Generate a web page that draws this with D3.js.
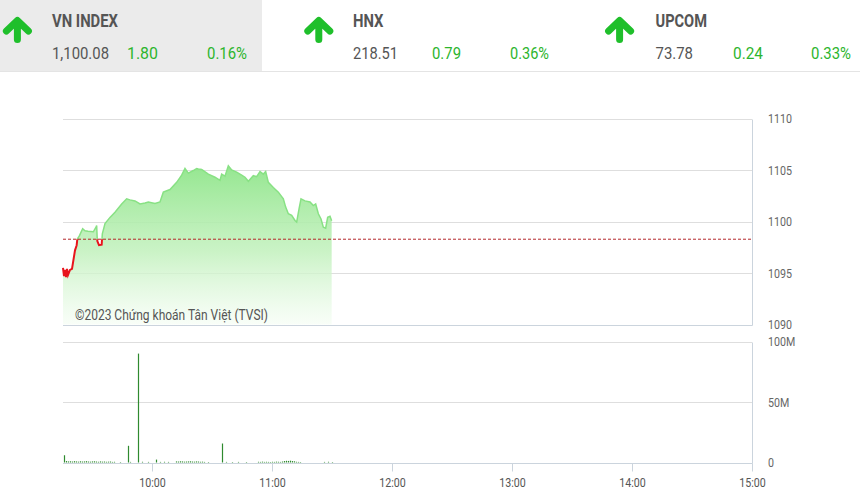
<!DOCTYPE html>
<html><head><meta charset="utf-8">
<script src="https://cdn.jsdelivr.net/npm/d3@7"></script>
<style>body{margin:0;background:#fff;} svg{display:block;font-family:Roboto,"Noto Sans",sans-serif;}</style>
</head><body><svg id="c" width="860" height="500"></svg>
<script>
// ---------- data ----------
const indexNames    = ["VN INDEX", "HNX", "UPCOM"];
const indexValues   = ["1,100.08", "218.51", "73.78"];
const indexChanges  = ["1.80", "0.79", "0.24"];
const indexPercents = ["0.16%", "0.36%", "0.33%"];

const referencePrice = 1098.28;

const priceTimes = ["09:15:30","09:16:00","09:16:30","09:17:00","09:17:30","09:18:00","09:19:00","09:20:00",
  "09:21:30","09:22:20","09:22:40","09:23:40","09:25:20","09:26:30","09:28:00","09:30:40","09:32:00","09:32:20",
  "09:32:40","09:33:30","09:34:50","09:35:10","09:36:30","09:39:00","09:41:30","09:44:50","09:47:20","09:49:00",
  "09:51:30","09:54:00","09:56:30","09:58:10","10:01:30","10:04:00","10:05:40","10:09:00","10:12:20","10:14:50",
  "10:16:30","10:18:10","10:20:40","10:22:20","10:23:10","10:24:50","10:28:10","10:31:30","10:34:00","10:34:50",
  "10:36:30","10:38:10","10:39:50","10:42:20","10:44:50","10:46:30","10:48:10","10:50:40","10:52:20","10:54:00",
  "10:55:40","10:56:50","10:58:10","11:00:40","11:03:10","11:05:40","11:06:50","11:08:10","11:09:50","11:11:30",
  "11:12:20","11:13:30","11:14:30","11:16:30","11:19:00","11:20:40","11:21:50","11:23:10","11:24:30","11:25:40",
  "11:26:50","11:27:50","11:29:00","11:29:50"];
const priceValues = [1095.5,1094.7,1095.3,1094.6,1095.4,1094.8,1095.3,1095.4,
  1097.2,1097.7,1098.3,1098.6,1099.3,1099.1,1099.05,1099.0,1099.45,1099.6,
  1098.1,1097.7,1097.75,1098.8,1099.8,1100.4,1100.9,1101.7,1102.2,1102.1,
  1102.0,1101.7,1101.8,1101.9,1101.75,1101.9,1102.85,1103.1,1103.8,1104.5,
  1105.15,1104.7,1104.95,1105.15,1105.1,1105.05,1104.6,1104.3,1104.0,1104.6,
  1104.4,1105.4,1105.0,1104.8,1104.5,1104.3,1103.9,1104.45,1104.35,1104.85,
  1104.6,1104.85,1103.8,1103.3,1102.85,1102.2,1101.4,1100.75,1100.6,1100.1,
  1099.95,1101.2,1102.2,1102.0,1101.9,1101.55,1101.7,1100.75,1100.25,1099.45,
  1099.35,1100.4,1100.5,1100.08];

const volumeTimes = ["09:16","09:17","09:18","09:19","09:20","09:21","09:22","09:23","09:24","09:25","09:26",
  "09:27","09:28","09:29","09:30","09:31","09:32","09:33","09:34","09:35","09:36","09:37","09:38","09:39","09:40",
  "09:41","09:44","09:48","09:49","09:53","09:55","09:58","10:02","10:04","10:06","10:08","10:12","10:13","10:14",
  "10:15","10:16","10:17","10:18","10:19","10:20","10:21","10:22","10:23","10:24","10:25","10:26","10:28","10:35",
  "10:37","10:40","10:43","10:47","10:53","10:54","10:55","10:56","10:57","10:58","10:59","11:00","11:01","11:02",
  "11:03","11:04","11:05","11:06","11:07","11:08","11:09","11:10","11:11","11:12","11:13","11:14","11:26","11:28","11:30"];
const volumeValues = [6.0,1.2,0.9,1.0,0.8,1.1,0.9,0.7,1.0,0.8,0.9,
  1.1,0.8,0.7,0.9,1.0,0.8,0.6,0.9,0.7,0.8,0.6,0.7,0.8,0.5,
  0.6,0.4,13.8,0.5,90.0,0.6,0.5,2.4,0.5,0.6,0.5,0.9,0.8,1.0,
  0.9,0.7,0.8,0.9,1.0,0.8,0.7,0.9,0.8,0.6,0.7,0.5,0.4,15.7,
  0.5,0.4,0.5,0.4,0.6,0.5,0.7,0.5,0.6,0.5,0.4,0.6,0.5,0.7,
  0.6,0.5,0.8,1.2,1.4,1.3,1.5,1.2,1.0,0.6,0.5,0.4,0.5,0.6,0.4]; // millions

const priceTicks  = [1090, 1095, 1100, 1105, 1110];
const volumeTicks = [0, 50, 100];
const volumeTickLabels = ["0", "50M", "100M"];
const timeTicks   = ["10:00", "11:00", "12:00", "13:00", "14:00", "15:00"];
const timeStart = "09:15", timeEnd = "15:00";
const watermark = "©2023 Chứng khoán Tân Việt (TVSI)";

// ---------- helpers ----------
const parseT = s => d3.timeParse("%H:%M:%S")(s.length === 5 ? s + ":00" : s);
const svg = d3.select("#c");
const condense = (sel, k) => sel.each(function(){ this.setAttribute("textLength", this.getComputedTextLength() * k); this.setAttribute("lengthAdjust","spacingAndGlyphs"); });

// ---------- header ----------
const GREEN = "#1fbf2b", TXTG = "#2db52d", GREY = "#555";
svg.append("rect").attr("x",0).attr("y",0).attr("width",262).attr("height",71).attr("fill","#ebebeb");
svg.append("line").attr("x1",0).attr("x2",860).attr("y1",71.5).attr("y2",71.5).attr("stroke","#e4e4e4");
const titleW = [66, 30.5, 51.5], valW = [57, 45, 37.5], chgW = [31, 29, 30], pctW = [40, 39, 40];
const chgX = [127, 432, 733], pctEnd = [247, 549, 851], titleX = [52, 353, 655.5], arrowX = [17.4, 318.8, 619.6];
indexNames.forEach((n, i) => {
  const g = svg.append("g");
  g.append("path").attr("d", `M${arrowX[i]-11},31 L${arrowX[i]},20.5 L${arrowX[i]+11},31 M${arrowX[i]},22 V39.5`)
    .attr("fill","none").attr("stroke",GREEN).attr("stroke-width",7).attr("stroke-linecap","round").attr("stroke-linejoin","round");
  g.append("text").attr("x",titleX[i]).attr("y",27).attr("font-size",18).attr("font-weight",700).attr("fill",GREY)
    .attr("textLength",titleW[i]).attr("lengthAdjust","spacingAndGlyphs").text(n);
  g.append("text").attr("x",titleX[i]).attr("y",59).attr("font-size",16).attr("fill",GREY)
    .attr("textLength",valW[i]).attr("lengthAdjust","spacingAndGlyphs").text(indexValues[i]);
  g.append("text").attr("x",chgX[i]).attr("y",59).attr("font-size",16).attr("fill",TXTG)
    .attr("textLength",chgW[i]).attr("lengthAdjust","spacingAndGlyphs").text(indexChanges[i]);
  g.append("text").attr("x",pctEnd[i]-pctW[i]).attr("y",59).attr("font-size",16).attr("fill",TXTG)
    .attr("textLength",pctW[i]).attr("lengthAdjust","spacingAndGlyphs").text(indexPercents[i]);
});

// ---------- scales ----------
const L = 62, R = 752;
const x = d3.scaleTime().domain([parseT(timeStart), parseT(timeEnd)]).range([L, R]);
const yP = d3.scaleLinear().domain([1090, 1110]).range([324.5, 118.5]);
const yV = d3.scaleLinear().domain([0, 100]).range([462.5, 341.5]);
const GRID = "#dedede", BORDER = "#cbd4dd";

// ---------- price panel ----------
const pg = svg.append("g");
pg.append("g").selectAll("line").data(priceTicks.slice(1)).join("line")
  .attr("x1",L+1).attr("x2",R).attr("y1",d=>Math.round(yP(d))+0.5).attr("y2",d=>Math.round(yP(d))+0.5).attr("stroke",GRID);
pg.append("path").attr("d",`M${L+1},${Math.round(yP(1090))+0.5} H${R+0.5} V${Math.round(yP(1110))+0.5}`)
  .attr("fill","none").attr("stroke",BORDER);

const defs = svg.append("defs");
const grad = defs.append("linearGradient").attr("id","ag").attr("gradientUnits","userSpaceOnUse")
  .attr("x1",0).attr("x2",0).attr("y1",yP(1105.5)).attr("y2",yP(1090));
grad.append("stop").attr("offset",0).attr("stop-color","#8fe58a").attr("stop-opacity",0.95);
grad.append("stop").attr("offset",0.55).attr("stop-color","#c2f1bd").attr("stop-opacity",0.85);
grad.append("stop").attr("offset",1).attr("stop-color","#f4fdf3").attr("stop-opacity",0.6);
const yRef = yP(referencePrice);
defs.append("clipPath").attr("id","above").append("rect").attr("x",0).attr("y",0).attr("width",860).attr("height",yRef);
defs.append("clipPath").attr("id","below").append("rect").attr("x",0).attr("y",yRef).attr("width",860).attr("height",500);

const pts = priceTimes.map((t,i)=>({t:parseT(t), v:priceValues[i]}));
const area = d3.area().x(d=>x(d.t)).y0(yP(1090)).y1(d=>yP(d.v));
const line = d3.line().x(d=>x(d.t)).y(d=>yP(d.v));
pg.append("path").datum(pts).attr("d",area).attr("fill","url(#ag)");
pg.append("path").datum(pts).attr("d",line).attr("fill","none").attr("stroke","#88e184").attr("stroke-width",1.5).attr("clip-path","url(#above)");
pg.append("path").datum(pts).attr("d",line).attr("fill","none").attr("stroke","#e8141c").attr("stroke-width",2).attr("clip-path","url(#below)");
pg.append("line").attr("x1",L+1).attr("x2",R).attr("y1",yRef).attr("y2",yRef)
  .attr("stroke","#b3262a").attr("stroke-width",1).attr("stroke-dasharray","3,2");

const ayP = pg.append("g").attr("transform",`translate(${R},0)`)
  .call(d3.axisRight(yP).tickValues(priceTicks).tickSize(0).tickPadding(16).tickFormat(d3.format("d")));
ayP.select(".domain").remove();
ayP.selectAll("text").attr("font-size",13).attr("font-family","Roboto").attr("fill","#666");
condense(ayP.selectAll("text"), 0.82);

pg.append("text").attr("x",75).attr("y",320).attr("font-size",14).attr("fill","#555")
  .attr("textLength",193).attr("lengthAdjust","spacingAndGlyphs").text(watermark);

// ---------- volume panel ----------
const vg = svg.append("g");
vg.append("g").selectAll("line").data(volumeTicks.slice(1)).join("line")
  .attr("x1",L+1).attr("x2",R).attr("y1",d=>Math.round(yV(d))+0.5).attr("y2",d=>Math.round(yV(d))+0.5).attr("stroke",GRID);
vg.append("path").attr("d",`M${L+1},${Math.round(yV(0))+0.5} H${R+0.5} V${Math.round(yV(100))+0.5}`)
  .attr("fill","none").attr("stroke",BORDER);
vg.append("g").selectAll("line").data(volumeTimes).join("line")
  .attr("x1",(d)=>Math.round(x(parseT(d)))+0.5).attr("x2",(d)=>Math.round(x(parseT(d)))+0.5)
  .attr("y1",yV(0)).attr("y2",(d,i)=>yV(volumeValues[i]))
  .attr("stroke","#2f8a2f").attr("stroke-width",1.2);

const ayV = vg.append("g").attr("transform",`translate(${R},0)`)
  .call(d3.axisRight(yV).tickValues(volumeTicks).tickSize(0).tickPadding(16).tickFormat((d,i)=>volumeTickLabels[i]));
ayV.select(".domain").remove();
ayV.selectAll("text").attr("font-size",13).attr("font-family","Roboto").attr("fill","#666");
condense(ayV.selectAll("text"), 0.82);

const ax = vg.append("g").attr("transform",`translate(0,${Math.round(yV(0))+0.5})`)
  .call(d3.axisBottom(x).tickValues(timeTicks.map(parseT)).tickSize(8).tickPadding(6).tickFormat(d3.timeFormat("%H:%M")));
ax.select(".domain").remove();
ax.selectAll(".tick line").attr("stroke",BORDER);
ax.selectAll("text").attr("font-size",13).attr("font-family","Roboto").attr("fill","#555");
condense(ax.selectAll("text"), 0.82);
</script></body></html>
